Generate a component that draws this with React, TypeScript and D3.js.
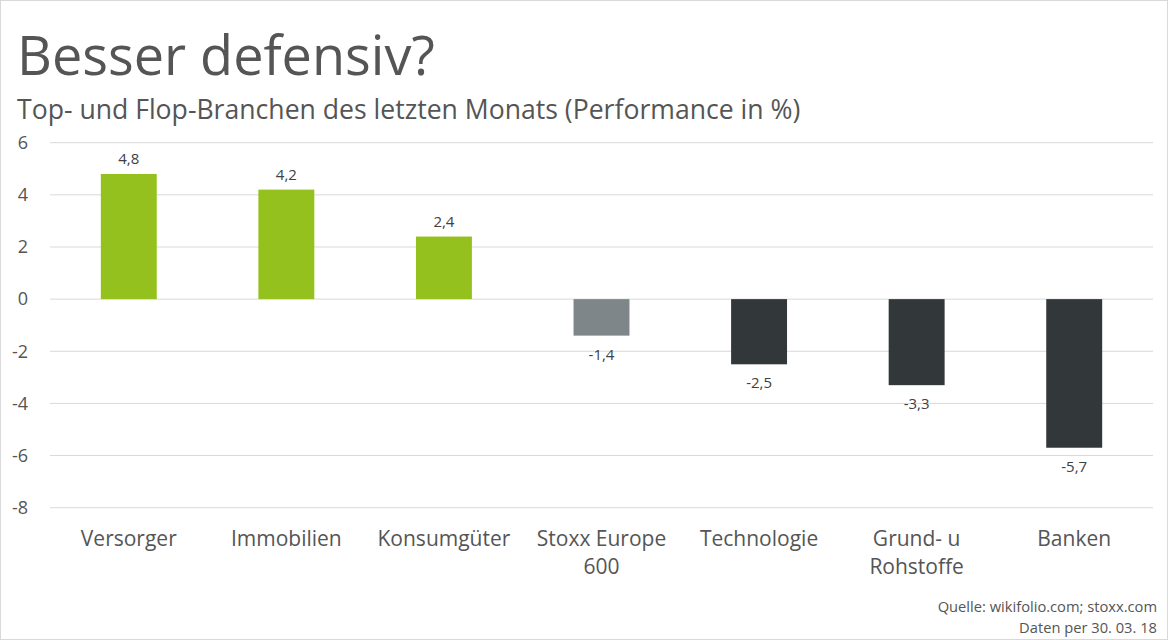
import React from "react";
import * as d3 from "d3";

const categories: string[][] = [
  ["Versorger"],
  ["Immobilien"],
  ["Konsumgüter"],
  ["Stoxx Europe", "600"],
  ["Technologie"],
  ["Grund- u", "Rohstoffe"],
  ["Banken"],
];
const values: number[] = [4.8, 4.2, 2.4, -1.4, -2.5, -3.3, -5.7];
const barKinds: string[] = ["top", "top", "top", "index", "flop", "flop", "flop"];
const yTicks: number[] = [6, 4, 2, 0, -2, -4, -6, -8];
const title = "Besser defensiv?";
const subtitle = "Top- und Flop-Branchen des letzten Monats (Performance in %)";
const sourceLines = ["Quelle: wikifolio.com; stoxx.com", "Daten per 30. 03. 18"];

const W = 1168;
const H = 640;
const colors: Record<string, string> = { top: "#95c11f", index: "#7f8689", flop: "#32373a" };
const FONT = "'Open Sans', sans-serif";

export default function App() {
  const x = d3
    .scaleBand<number>()
    .domain(values.map((_, i) => i))
    .range([50, 1153])
    .paddingInner(0.645)
    .paddingOuter(0.3225);
  const y = d3.scaleLinear().domain([-8, 6]).range([507.7, 142.7]);
  const fmt = (v: number) => v.toFixed(1).replace(".", ",");

  return (
    <svg
      width={W}
      height={H}
      style={{ position: "absolute", left: 0, top: 0, background: "#fff" }}
      fontFamily={FONT}
    >
      <rect x={0.5} y={0.5} width={W - 1} height={H - 1} fill="#fff" stroke="#d9d9d9" />
      <text x={17} y={75} fontSize={54} fill="#555555">
        {title}
      </text>
      <text x={17} y={119} fontSize={26.6} fill="#555555">
        {subtitle}
      </text>
      {yTicks.map((t) => (
        <g key={t}>
          <line x1={50} x2={1153} y1={y(t)} y2={y(t)} stroke="#d9d9d9" strokeWidth={1} />
          <text x={28} y={y(t)} dy="0.35em" textAnchor="end" fontSize={18} fill="#555555">
            {String(t)}
          </text>
        </g>
      ))}
      {values.map((v, i) => {
        const x0 = x(i)!;
        const bw = x.bandwidth();
        const top = y(Math.max(0, v));
        const bottom = y(Math.min(0, v));
        const cx = x0 + bw / 2;
        return (
          <g key={i}>
            <rect x={x0} y={top} width={bw} height={bottom - top} fill={colors[barKinds[i]]} />
            <text
              x={cx}
              y={v >= 0 ? top - 10 : bottom + 24}
              textAnchor="middle"
              fontSize={15}
              fill="#404040"
            >
              {fmt(v)}
            </text>
            {categories[i].map((line, j) => (
              <text key={j} x={cx} y={546 + j * 28} textAnchor="middle" fontSize={21} fill="#555555">
                {line}
              </text>
            ))}
          </g>
        );
      })}
      {sourceLines.map((s, i) => (
        <text key={i} x={1157} y={612 + i * 21} textAnchor="end" fontSize={14.7} fill="#555555">
          {s}
        </text>
      ))}
    </svg>
  );
}
